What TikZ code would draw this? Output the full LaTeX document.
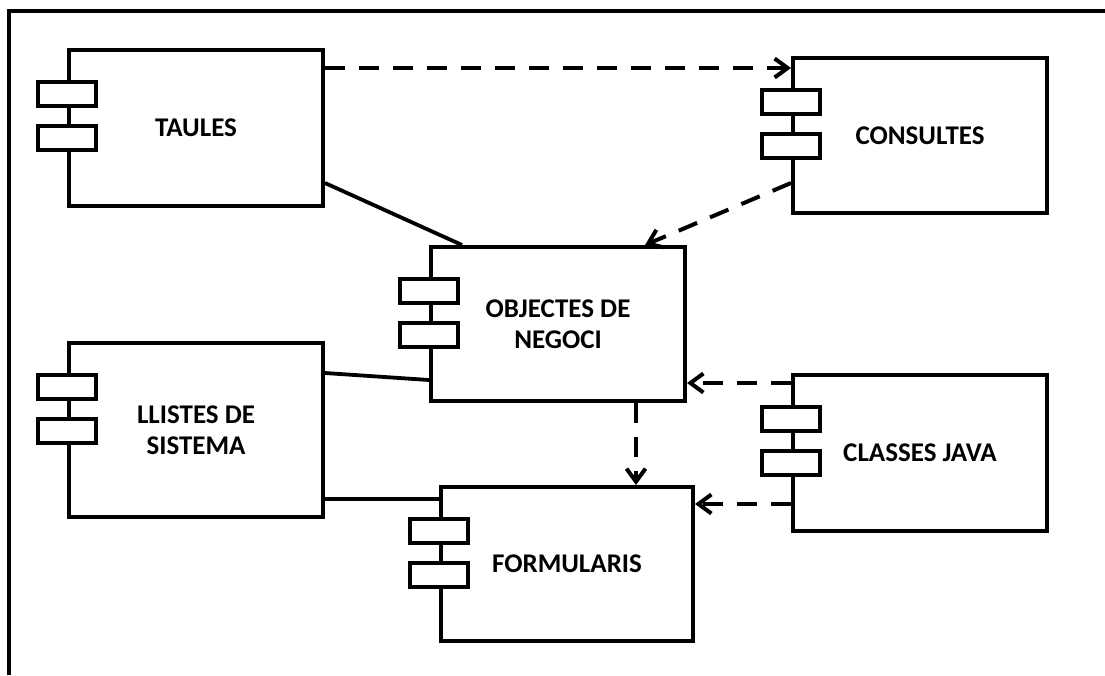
\documentclass[tikz,border=0pt]{standalone}
\usepackage{fontspec}
\setmainfont{Carlito}
\usetikzlibrary{arrows.meta}
\tikzset{
  comp/.style={draw, line width=4pt, inner sep=0pt, minimum width=254pt, align=center,
    font=\fontsize{27}{31}\selectfont\bfseries},
  port/.style={draw, fill=white, line width=4pt, inner sep=0pt, minimum width=58pt, minimum height=24pt},
  dep/.style={line width=4pt, dash pattern=on 20pt off 14pt, -{Straight Barb[length=13pt,width=19pt]}},
  assoc/.style={line width=3.8pt},
  frame/.style={line width=4pt}
}
\newcommand{\compports}[1]{%
  \node[port] (#1p1) at ([yshift=-46pt]#1.north west) {};
  \node[port] (#1p2) at ([yshift=-90pt]#1.north west) {};}
\begin{document}
\begin{tikzpicture}[x=1pt,y=-1pt]
\useasboundingbox (0,0) rectangle (1105,675);
\coordinate (fa) at (9,675);
\coordinate (fb) at (9,11);
\coordinate (fc) at (1105,11);
\draw[frame] (fa) -- (fb) -- (fc);

\node[comp, minimum height=156pt] (taules) at (196,128) {TAULES};
\node[comp, minimum height=155pt] (consultes) at (920,135.5) {CONSULTES};
\node[comp, minimum height=154pt] (objectes) at (558,324) {OBJECTES DE\\NEGOCI};
\node[comp, minimum height=174pt] (llistes) at (196,430) {LLISTES DE\\SISTEMA};
\node[comp, minimum width=252pt, minimum height=154pt] (formularis) at (567,564) {FORMULARIS};
\node[comp, minimum height=156pt] (classes) at (920,453) {CLASSES JAVA};

\compports{taules}
\compports{consultes}
\compports{objectes}
\compports{llistes}
\compports{formularis}
\compports{classes}

% taules -> consultes
\coordinate (t1) at ([yshift=-20pt]taules.north east);
\draw[dep] (t1) -- (t1 -| consultes.west);
% consultes -> objectes
\draw[dep] ([yshift=-47.5pt]consultes.west) -- ([xshift=87pt]objectes.north);
% taules -- objectes
\draw[assoc] ([yshift=25pt]taules.south east) -- ([xshift=-96pt]objectes.north);
% llistes -- objectes
\draw[assoc] ([yshift=-32pt]llistes.north east) -- ([yshift=23pt]objectes.south west);
% llistes -- formularis
\coordinate (l2) at ([yshift=20pt]llistes.south east);
\draw[assoc] (l2) -- (l2 -| formularis.west);
% objectes -> formularis
\coordinate (o1) at ([xshift=78pt]objectes.south);
\draw[dep] (o1) -- (o1 |- formularis.north);
% classes -> objectes
\coordinate (c1) at ([yshift=-10pt]classes.north west);
\draw[dep] (c1) -- (c1 -| objectes.east);
% classes -> formularis
\coordinate (c2) at ([yshift=29pt]classes.south west);
\draw[dep] (c2) -- (c2 -| formularis.east);
\end{tikzpicture}
\end{document}
